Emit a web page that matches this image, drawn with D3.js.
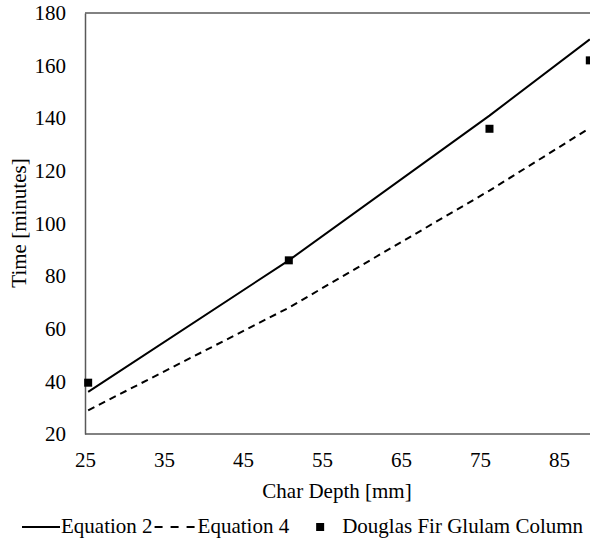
<!DOCTYPE html>
<html>
<head>
<meta charset="utf-8">
<script src="https://cdn.jsdelivr.net/npm/d3@7"></script>
<style>
  body { margin: 0; background: #fff; }
  svg { display: block; font-family: "Liberation Serif", "Times New Roman", serif; }
</style>
</head>
<body>
<svg id="chart" width="590" height="549"></svg>
<script>
// char depth in mm (1, 2, 3, 3.5 inch)
const depths = [25.4, 50.8, 76.2, 88.9]
const equation2 = [36, 86, 141, 170]
const equation4 = [29, 68, 112.5, 136.3]
const glulam = [39.5, 86, 136, 162]
const xTicks = [25, 35, 45, 55, 65, 75, 85]
const yTicks = [20, 40, 60, 80, 100, 120, 140, 160, 180]

const svg = d3.select('#chart')

const plotLeft = 85, plotTop = 13, plotBottom = 434, plotRight = 600
const fontSize = '21px'

// x spacing taken from the 25 and 85 tick positions, plot runs past the window edge
const x = d3.scaleLinear().domain([25, 85]).range([plotLeft, 559])
const y = d3.scaleLinear().domain([20, 180]).range([plotBottom, plotTop])

// frame
svg.append('line')
  .attr('x1', plotLeft).attr('x2', plotRight).attr('y1', plotTop).attr('y2', plotTop)
  .attr('stroke', '#595959').attr('stroke-width', 1.5)

// axes
const xAxis = svg.append('g')
  .attr('transform', `translate(0,${plotBottom})`)
  .call(d3.axisBottom(x).tickValues(xTicks).tickSize(0).tickPadding(18))
xAxis.select('.domain').attr('d', `M${plotLeft},0H${plotRight}`).attr('stroke', '#595959').attr('stroke-width', 1.5)

const yAxis = svg.append('g')
  .attr('transform', `translate(${plotLeft},0)`)
  .call(d3.axisLeft(y).tickValues(yTicks).tickSize(0).tickPadding(19))
yAxis.select('.domain').attr('stroke', '#595959').attr('stroke-width', 1.5)

svg.selectAll('.tick text')
  .style('font-family', '"Liberation Serif", serif')
  .style('font-size', fontSize)
  .attr('fill', '#000')

// lines
const line = d3.line()
  .x((d, i) => x(depths[i]))
  .y(d => y(d))

svg.append('path')
  .datum(equation2)
  .attr('d', line)
  .attr('fill', 'none')
  .attr('stroke', '#000')
  .attr('stroke-width', 2)

svg.append('path')
  .datum(equation4)
  .attr('d', line)
  .attr('fill', 'none')
  .attr('stroke', '#000')
  .attr('stroke-width', 2)
  .attr('stroke-dasharray', '7,5')

// data points
svg.selectAll('.pt')
  .data(glulam)
  .join('rect')
  .attr('class', 'pt')
  .attr('x', (d, i) => x(depths[i]) - 4)
  .attr('y', d => y(d) - 4)
  .attr('width', 8)
  .attr('height', 8)
  .attr('fill', '#000')

// axis titles
svg.append('text')
  .attr('x', 337).attr('y', 498)
  .attr('text-anchor', 'middle')
  .attr('fill', '#000')
  .style('font-size', fontSize)
  .text('Char Depth [mm]')

svg.append('text')
  .attr('transform', 'translate(26,223) rotate(-90)')
  .attr('text-anchor', 'middle')
  .attr('fill', '#000')
  .style('font-size', fontSize)
  .text('Time [minutes]')

// legend, laid out left to right from measured text widths
const lg = svg.append('g').attr('transform', 'translate(0,533)')
let lx = 22
lg.append('line').attr('x1', lx).attr('x2', lx + 38).attr('y1', -6).attr('y2', -6)
  .attr('stroke', '#000').attr('stroke-width', 2)
lx += 39
let t = lg.append('text').attr('x', lx).attr('fill', '#000').style('font-size', fontSize).text('Equation 2')
lx += t.node().getComputedTextLength() + 2
lg.append('line').attr('x1', lx).attr('x2', lx + 40).attr('y1', -6).attr('y2', -6)
  .attr('stroke', '#000').attr('stroke-width', 2).attr('stroke-dasharray', '8,8')
lx += 43
t = lg.append('text').attr('x', lx).attr('fill', '#000').style('font-size', fontSize).text('Equation 4')
lx += t.node().getComputedTextLength() + 27
lg.append('rect').attr('x', lx).attr('y', -10).attr('width', 8).attr('height', 8).attr('fill', '#000')
lx += 26
lg.append('text').attr('x', lx).attr('fill', '#000').style('font-size', fontSize).text('Douglas Fir Glulam Column')
</script>
</body>
</html>
